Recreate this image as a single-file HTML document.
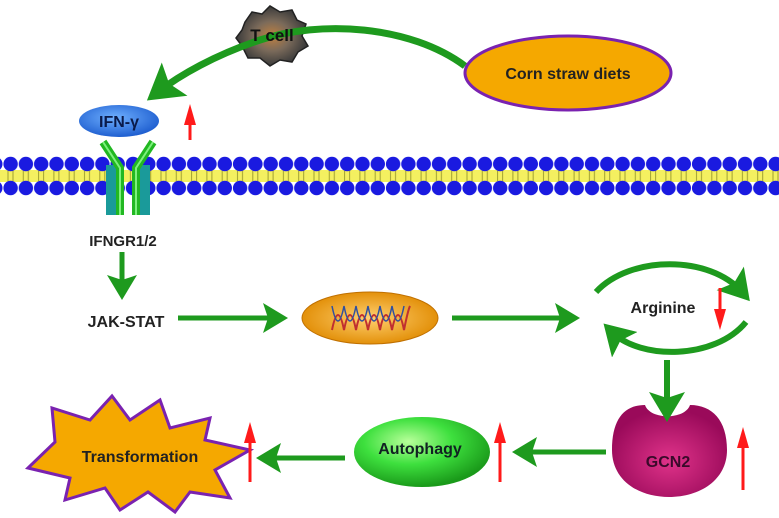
<!DOCTYPE html>
<html><head><meta charset="utf-8"><style>
html,body{margin:0;padding:0;background:#fff;}
svg{display:block;}
text{font-family:"Liberation Sans",sans-serif;font-weight:bold;}
</style></head><body>
<svg width="779" height="518" viewBox="0 0 779 518" xmlns="http://www.w3.org/2000/svg">
<defs>
<marker id="g" markerWidth="6" markerHeight="6" refX="3" refY="3" orient="auto" markerUnits="strokeWidth"><path d="M0,0 L5,3 L0,6 L1,3 Z" fill="#1e9a1e"/></marker>
<marker id="r" markerWidth="7" markerHeight="4" refX="1" refY="2" orient="auto" markerUnits="strokeWidth"><path d="M0,0 L7,2 L0,4 Z" fill="#ff1a1a"/></marker>
<radialGradient id="tc" cx="50%" cy="50%" r="50%"><stop offset="0" stop-color="#c08040"/><stop offset="0.5" stop-color="#7a6a5a"/><stop offset="1" stop-color="#3a3a3a"/></radialGradient>
<radialGradient id="gc" cx="50%" cy="60%" r="55%"><stop offset="0" stop-color="#e0338a"/><stop offset="1" stop-color="#9a0a5a"/></radialGradient>
<radialGradient id="au" cx="40%" cy="35%" r="65%"><stop offset="0" stop-color="#b8ff9a"/><stop offset="0.5" stop-color="#3ee03e"/><stop offset="1" stop-color="#1a9a1a"/></radialGradient>
<radialGradient id="ifn" cx="45%" cy="40%" r="60%"><stop offset="0" stop-color="#6fb0ff"/><stop offset="1" stop-color="#1f5fd0"/></radialGradient>
<radialGradient id="dna" cx="50%" cy="50%" r="55%"><stop offset="0" stop-color="#ffd070"/><stop offset="1" stop-color="#e08a00"/></radialGradient>
<pattern id="mem" x="3" y="152" width="15.3" height="48" patternUnits="userSpaceOnUse">
<rect x="0" y="18" width="15.3" height="12" fill="#f4f060"/>
<line x1="5" y1="19" x2="5" y2="29" stroke="#a0a030" stroke-width="1"/>
<line x1="10" y1="19" x2="10" y2="29" stroke="#a0a030" stroke-width="1"/>
<circle cx="7.6" cy="12" r="7.2" fill="#1a1ae0"/>
<circle cx="7.6" cy="36" r="7.2" fill="#1a1ae0"/>
</pattern>
</defs>
<rect x="0" y="152" width="779" height="48" fill="url(#mem)"/>
<rect x="106" y="165" width="10" height="50" fill="#1a9a9a"/>
<rect x="140" y="165" width="10" height="50" fill="#1a9a9a"/>
<path d="M120 215 L120 168 L103 142 M136 215 L136 168 L153 142" stroke="#22b822" stroke-width="8" fill="none"/>
<path d="M120 215 L120 168 L103 142 M136 215 L136 168 L153 142" stroke="#7ef07e" stroke-width="2" fill="none"/>
<ellipse cx="119" cy="121" rx="40" ry="16" fill="url(#ifn)"/>
<text x="119" y="127" font-size="16" text-anchor="middle" fill="#0a1a4a">IFN-γ</text>
<line x1="190" y1="140" x2="190" y2="122" stroke="#ff1a1a" stroke-width="3" marker-end="url(#r)"/>
<path d="M245 22 L252 12 L262 14 L270 6 L280 12 L292 10 L297 20 L306 24 L302 36 L308 46 L298 52 L292 62 L280 60 L270 66 L260 58 L248 58 L242 46 L236 38 L242 30 Z" fill="url(#tc)" stroke="#222" stroke-width="1.5"/>
<path d="M465 66 C410 25 320 20 260 40 C215 55 180 75 158 92" stroke="#1e9a1e" stroke-width="7" fill="none" marker-end="url(#g)"/>
<text x="272" y="41" font-size="17" text-anchor="middle" fill="#111">T cell</text>
<ellipse cx="568" cy="73" rx="103" ry="37" fill="#f5a800" stroke="#7a22b0" stroke-width="3"/>
<text x="568" y="79" font-size="16" text-anchor="middle" fill="#222">Corn straw diets</text>
<text x="123" y="246" font-size="15" text-anchor="middle" fill="#222">IFNGR1/2</text>
<line x1="122" y1="252" x2="122" y2="290" stroke="#1e9a1e" stroke-width="5" marker-end="url(#g)"/>
<text x="126" y="327" font-size="16" text-anchor="middle" fill="#222">JAK-STAT</text>
<line x1="178" y1="318" x2="278" y2="318" stroke="#1e9a1e" stroke-width="5" marker-end="url(#g)"/>
<ellipse cx="370" cy="318" rx="68" ry="26" fill="url(#dna)" stroke="#c07000" stroke-width="1"/>
<path d="M332 330 Q338 300 344 330 Q350 300 356 330 Q362 300 368 330 Q374 300 380 330 Q386 300 392 330 Q398 300 404 330 Q408 310 410 306" stroke="#c03030" stroke-width="2" fill="none"/>
<path d="M332 306 Q338 336 344 306 Q350 336 356 306 Q362 336 368 306 Q374 336 380 306 Q386 336 392 306 Q398 336 404 306" stroke="#3050a0" stroke-width="1.5" fill="none"/>
<line x1="452" y1="318" x2="570" y2="318" stroke="#1e9a1e" stroke-width="5" marker-end="url(#g)"/>
<path d="M596 292 C630 255 710 255 742 292" stroke="#1e9a1e" stroke-width="6" fill="none" marker-end="url(#g)"/>
<path d="M746 322 C715 360 640 360 612 332" stroke="#1e9a1e" stroke-width="6" fill="none" marker-end="url(#g)"/>
<text x="663" y="313" font-size="16" text-anchor="middle" fill="#222">Arginine</text>
<line x1="720" y1="288" x2="720" y2="312" stroke="#ff1a1a" stroke-width="3" marker-end="url(#r)"/>
<path d="M612 450 C612 418 625 405 645 405 C650 420 685 420 690 405 C712 405 727 420 727 450 C727 480 700 497 669 497 C638 497 612 480 612 450 Z" fill="url(#gc)"/>
<line x1="667" y1="360" x2="667" y2="410" stroke="#1e9a1e" stroke-width="6" marker-end="url(#g)"/>
<text x="668" y="467" font-size="16" text-anchor="middle" fill="#3a0a2a">GCN2</text>
<line x1="743" y1="490" x2="743" y2="445" stroke="#ff1a1a" stroke-width="3" marker-end="url(#r)"/>
<line x1="606" y1="452" x2="522" y2="452" stroke="#1e9a1e" stroke-width="5" marker-end="url(#g)"/>
<ellipse cx="422" cy="452" rx="68" ry="35" fill="url(#au)"/>
<text x="420" y="454" font-size="16" text-anchor="middle" fill="#122">Autophagy</text>
<line x1="500" y1="482" x2="500" y2="440" stroke="#ff1a1a" stroke-width="3" marker-end="url(#r)"/>
<line x1="345" y1="458" x2="266" y2="458" stroke="#1e9a1e" stroke-width="5" marker-end="url(#g)"/>
<path d="M28 468 L55 442 L52 408 L90 420 L112 396 L130 420 L160 400 L170 428 L210 418 L205 440 L250 450 L215 470 L230 498 L190 492 L175 512 L148 492 L120 510 L105 488 L65 500 L70 478 Z" fill="#f5a800" stroke="#7a22b0" stroke-width="3"/>
<text x="140" y="462" font-size="16" text-anchor="middle" fill="#222">Transformation</text>
<line x1="250" y1="482" x2="250" y2="440" stroke="#ff1a1a" stroke-width="3" marker-end="url(#r)"/>
</svg>
</body></html>
